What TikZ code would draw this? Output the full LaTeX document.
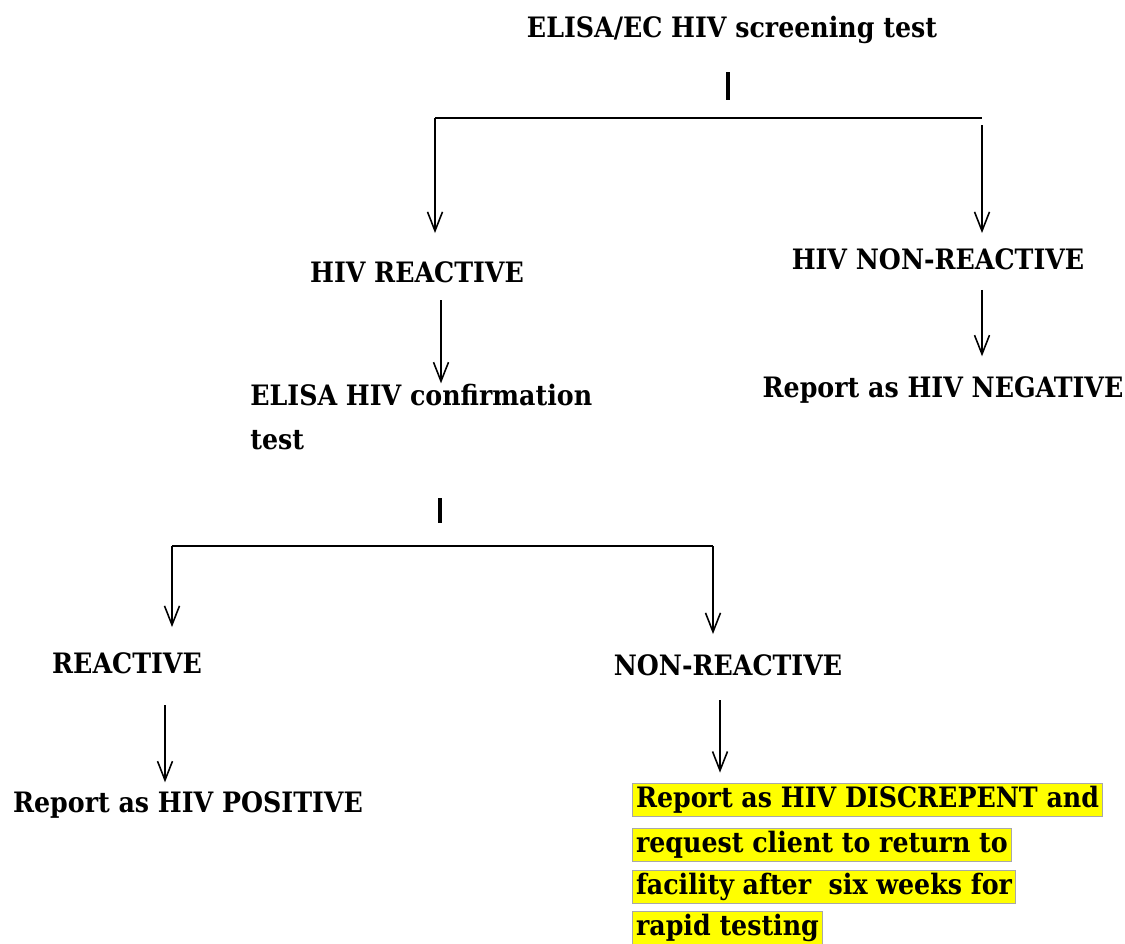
\documentclass[tikz,border=0pt]{standalone}
\usepackage{fontspec}
\setmainfont{DejaVu Serif Condensed}
\usetikzlibrary{arrows.meta}
\definecolor{hiyellow}{HTML}{FFFF00}
\definecolor{hiborder}{HTML}{A8A8A8}
\tikzset{
  lbl/.style={font=\fontsize{16}{25.5}\selectfont\bfseries, inner sep=0pt},
  hilite/.style={lbl, anchor=west, fill=hiyellow, draw=hiborder, line width=0.6pt,
    inner xsep=2pt, inner ysep=0pt, text height=14pt, text depth=5.2pt},
  arr/.style={line width=1.1pt, -{Straight Barb[length=0.38cm,width=0.3cm,line width=0.9pt]}},
  bar/.style={line width=2.4pt},
  link/.style={line width=1.1pt}
}
\begin{document}
\begin{tikzpicture}[x=0.02cm,y=-0.02cm]
		\useasboundingbox (0,0) rectangle (1125,943);
		\node[lbl] (screen) at (732,30) {ELISA/EC HIV screening test};
		\node[lbl] (hivr) at (417,272) {HIV REACTIVE};
		\node[lbl] (hivnr) at (938,259) {HIV NON-REACTIVE};
		\node[lbl, anchor=west, align=left] (confirm) at (250,417) {ELISA HIV confirmation\\test};
		\node[lbl] (neg) at (943,390) {Report as HIV NEGATIVE};
		\node[lbl] (reac) at (127,663) {REACTIVE};
		\node[lbl] (nonreac) at (728,665) {NON-REACTIVE};
		\node[lbl] (pos) at (188,805) {Report as HIV POSITIVE};
		% 黄色高亮
		\node[hilite] (disc1) at (632,800) {Report as HIV DISCREPENT and};
		\node[hilite] (disc2) at (632,845) {request client to return to};
		\node[hilite] (disc3) at (632,887) {facility after\ \ six weeks for};
		\node[hilite] (disc4) at (632,928) {rapid testing};
		% 第一层分支
		\coordinate (b1top) at (728,72);
		\coordinate (b1bot) at (728,100);
		\coordinate (h1l) at (435,118);
		\coordinate (h1r) at (982,118);
		\coordinate (h1rr) at (982,125);
		\draw[bar] (b1top) -- (b1bot);
		\draw[link] (h1l) -- (h1r);
		\draw[arr] (h1l) -- (h1l |- hivr.north) [shorten >=0.56cm];
		\draw[arr] (h1rr) -- (h1r |- hivnr.north) [shorten >=0.3cm];
		\draw[arr] (441,300) coordinate (a1) -- (a1 |- confirm.north) [shorten >=0cm];
		\draw[arr] (hivnr.south -| h1r) ++(0,20) coordinate (a2) -- (a2 |- neg.north) [shorten >=0.4cm];
		% 第二层分支
		\coordinate (b2top) at (440,498);
		\coordinate (b2bot) at (440,523);
		\coordinate (h2l) at (172,546);
		\coordinate (h2r) at (713,546);
		\draw[bar] (b2top) -- (b2bot);
		\draw[link] (h2l) -- (h2r);
		\draw[arr] (h2l) -- (h2l |- reac.north) [shorten >=0.5cm];
		\draw[arr] (h2r) -- (h2r |- nonreac.north) [shorten >=0.4cm];
		\coordinate (a3) at (165,705);
		\coordinate (a4) at (720,700);
		\draw[arr] (a3) -- (a3 |- pos.north) [shorten >=0.18cm];
		\draw[arr] (a4) -- (a4 |- disc1.north) [shorten >=0.2cm];
	\end{tikzpicture}
\end{document}
